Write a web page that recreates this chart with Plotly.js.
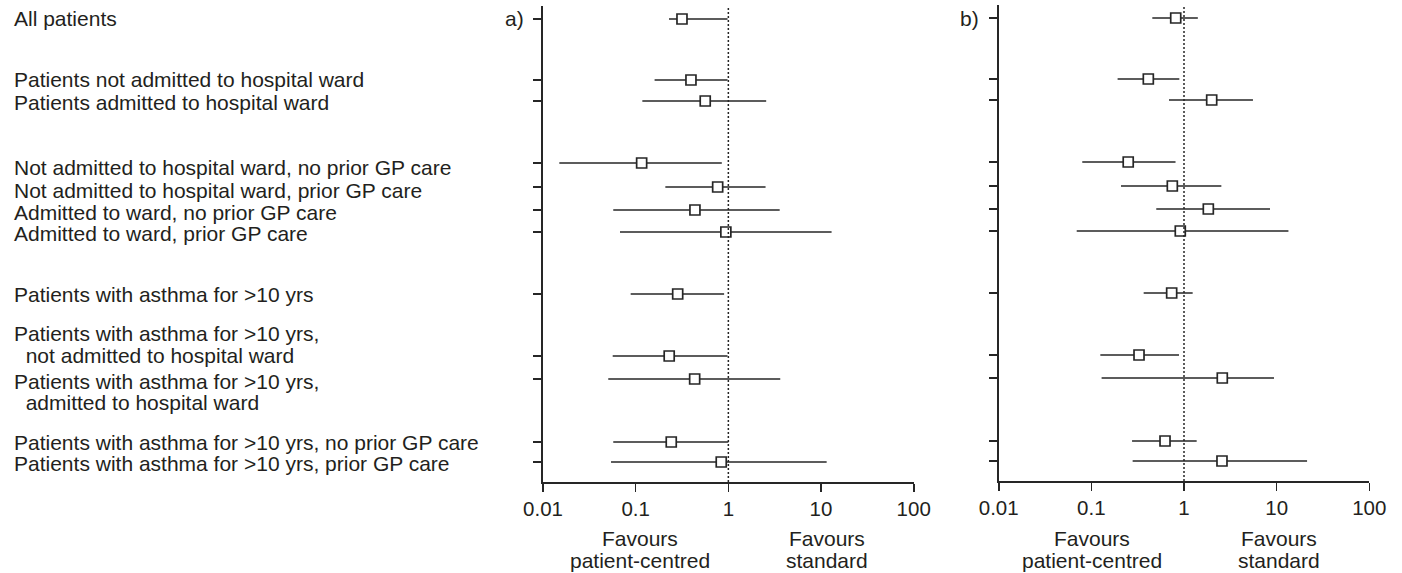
<!DOCTYPE html>
<html>
<head>
<meta charset="utf-8">
<script src="https://cdn.plot.ly/plotly-3.0.1.min.js"></script>
<style>
html,body{margin:0;padding:0;background:#fff;}
#chart{width:1402px;height:573px;}
</style>
</head>
<body>
<div id="chart"></div>
<script>
// ---------------- DATA ----------------
const categories = [
  "All patients",
  "Patients not admitted to hospital ward",
  "Patients admitted to hospital ward",
  "Not admitted to hospital ward, no prior GP care",
  "Not admitted to hospital ward, prior GP care",
  "Admitted to ward, no prior GP care",
  "Admitted to ward, prior GP care",
  "Patients with asthma for >10 yrs",
  "Patients with asthma for >10 yrs,\n  not admitted to hospital ward",
  "Patients with asthma for >10 yrs,\n  admitted to hospital ward",
  "Patients with asthma for >10 yrs, no prior GP care",
  "Patients with asthma for >10 yrs, prior GP care"
];
// panel a)
const estA = [0.316, 0.395, 0.563, 0.116, 0.767, 0.436, 0.94, 0.284, 0.230, 0.433, 0.242, 0.838];
const lowA = [0.229, 0.160, 0.118, 0.015, 0.209, 0.0573, 0.0677, 0.0883, 0.0565, 0.0506, 0.0573, 0.0542];
const highA = [0.98, 0.98, 2.56, 0.85, 2.52, 3.58, 13.0, 0.90, 0.98, 3.63, 1.0, 11.5];
// panel b)
const estB = [0.814, 0.412, 1.99, 0.25, 0.748, 1.83, 0.912, 0.736, 0.327, 2.59, 0.624, 2.57];
const lowB = [0.455, 0.192, 0.689, 0.0798, 0.209, 0.502, 0.0695, 0.367, 0.125, 0.129, 0.275, 0.279];
const highB = [1.41, 0.89, 5.55, 0.81, 2.53, 8.48, 13.4, 1.24, 0.883, 9.36, 1.37, 21.3];
// tick labels
const tickValues = [0.01, 0.1, 1, 10, 100];
const tickLabels = ["0.01", "0.1", "1", "10", "100"];
const panelLabels = ["a)", "b)"];
const favoursLeft = ["Favours", "patient-centred"];
const favoursRight = ["Favours", "standard"];

// ---------------- LAYOUT CONSTANTS ----------------
const W = 1402, H = 573;
const TOP = 5, BOTTOM = 91;           // margins
const PLOT_H = H - TOP - BOTTOM;      // 477
// vertical row positions (pixel units of the y axis)
const rowPos = [19, 80, 101, 163, 187, 210, 232, 294, 356, 379, 442, 462];
// vertical centre of each label line
const labelLinePos = [[18],[80],[102],[167],[190],[212],[233],[294],[334,355],[381,402],[442],[463]];
const textColor = "#231f20";
const lineColor = "#262626";
const FONT = "Liberation Sans, Arial, sans-serif";
const LABEL_SIZE = 21;

const px = p => p / W;
const py = p => (H - BOTTOM - p) / PLOT_H;

const domA = [543 / W, 913.7 / W];
const domB = [998.7 / W, 1369.3 / W];

function errTrace(est, lo, hi, xa, ya) {
  return {
    type: "scatter", mode: "markers",
    x: est, y: rowPos, xaxis: xa, yaxis: ya,
    error_x: {
      type: "data", symmetric: false,
      array: est.map((v, i) => hi[i] - v),
      arrayminus: est.map((v, i) => v - lo[i]),
      width: 0, thickness: 1.5, color: lineColor
    },
    marker: { symbol: "square", size: 10, color: "#ffffff", line: { color: lineColor, width: 1.7 } },
    hoverinfo: "x", showlegend: false, cliponaxis: false
  };
}

const traces = [
  errTrace(estA, lowA, highA, "x", "y"),
  errTrace(estB, lowB, highB, "x2", "y2")
];

function xAxis(dom, anchor) {
  return {
    domain: dom, type: "log", range: [-2, 2], anchor: anchor,
    showline: true, linecolor: lineColor, linewidth: 1.6,
    ticks: "outside", ticklen: 8, tickwidth: 1.6, tickcolor: lineColor,
    tickvals: tickValues, ticktext: tickLabels,
    tickfont: { family: FONT, size: 20.5, color: textColor },
    showgrid: false, zeroline: false, fixedrange: true
  };
}
function yAxis(dom, anchor) {
  return {
    domain: dom, range: [482, 6], anchor: anchor,
    showline: true, linecolor: lineColor, linewidth: 1.6,
    ticks: "outside", ticklen: 8, tickwidth: 1.6, tickcolor: lineColor,
    tickvals: rowPos, ticktext: rowPos.map(() => ""),
    showticklabels: false,
    showgrid: false, zeroline: false, fixedrange: true
  };
}

const annotations = [];
// row labels
categories.forEach((c, i) => {
  const lines = c.split("\n");
  lines.forEach((ln, j) => {
    annotations.push({
      xref: "paper", yref: "paper", x: px(12), y: py(labelLinePos[i][j]),
      xanchor: "left", yanchor: "middle", showarrow: false,
      text: ln.replace(/^ +/, m => "\u00a0".repeat(m.length)).replace(/>/g, "&gt;"),
      font: { family: FONT, size: LABEL_SIZE, color: textColor }
    });
  });
});
// panel letters
[[526, panelLabels[0]], [981, panelLabels[1]]].forEach(([xp, t]) => {
  annotations.push({
    xref: "paper", yref: "paper", x: px(xp), y: py(18),
    xanchor: "right", yanchor: "middle", showarrow: false, text: t,
    font: { family: FONT, size: LABEL_SIZE, color: textColor }
  });
});
// favours labels
[[640, 826.7], [1091.7, 1279]].forEach(([xl, xr]) => {
  [[xl, favoursLeft], [xr, favoursRight]].forEach(([xc, arr]) => {
    arr.forEach((t, j) => {
      annotations.push({
        xref: "paper", yref: "paper", x: px(xc), y: py(j === 0 ? 538 : 560),
        xanchor: "center", yanchor: "middle", showarrow: false, text: t,
        font: { family: FONT, size: LABEL_SIZE, color: textColor }
      });
    });
  });
});

const shapes = [
  { type: "line", xref: "x", yref: "y domain", x0: 1, x1: 1, y0: 0, y1: 1,
    line: { color: lineColor, width: 1.5, dash: "2px,2px" } },
  { type: "line", xref: "x2", yref: "y2 domain", x0: 1, x1: 1, y0: 0, y1: 1,
    line: { color: lineColor, width: 1.5, dash: "2px,2px" } }
];

const layout = {
  width: W, height: H,
  margin: { l: 0, r: 0, t: TOP, b: BOTTOM, pad: 0 },
  paper_bgcolor: "#ffffff", plot_bgcolor: "#ffffff",
  showlegend: false,
  xaxis: xAxis(domA, "y"),
  yaxis: yAxis([0, 476 / PLOT_H], "x"),
  xaxis2: xAxis(domB, "y2"),
  yaxis2: yAxis([1 / PLOT_H, 1], "x2"),
  annotations: annotations,
  shapes: shapes,
  font: { family: FONT, color: textColor }
};

Plotly.newPlot("chart", traces, layout, { displayModeBar: false, staticPlot: true });
</script>
</body>
</html>
